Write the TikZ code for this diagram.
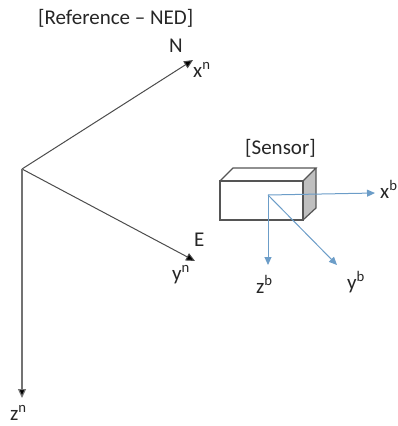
\documentclass[tikz,border=0pt]{standalone}
\usepackage{fontspec}
\setmainfont{Carlito}
\usetikzlibrary{arrows.meta}
\definecolor{bluearrow}{HTML}{6C9DC8}
\definecolor{boxedge}{HTML}{555555}
\definecolor{sideface}{HTML}{BFBFBF}
\tikzset{
  lbl/.style={inner sep=0pt,anchor=base west,font=\fontsize{21}{24}\selectfont,text=black!85},
  refaxis/.style={draw=black!70,line width=1pt,-{Triangle[length=9pt,width=8pt,fill=black]}},
  bodyaxis/.style={draw=bluearrow,line width=1pt,-{Triangle[length=8pt,width=7pt,fill=bluearrow]}},
  boxline/.style={draw=boxedge,line width=1.2pt,line join=miter}
}
\begin{document}
\begin{tikzpicture}[x=1pt,y=-1pt]
\useasboundingbox (0,0) rectangle (398,426);
% reference frame
\coordinate (o) at (22,169);
\coordinate (xn) at (193,60);
\coordinate (yn) at (195,261);
\coordinate (zn) at (22,398);
\draw[refaxis] (o) -- (xn);
\draw[refaxis] (o) -- (yn);
\draw[refaxis,draw=black!55,line width=1.2pt] (o) -- (zn);
% sensor box
\coordinate (fa) at (220,181);
\coordinate (fb) at (303,181);
\coordinate (fc) at (303,220);
\coordinate (fd) at (220,220);
\coordinate (ta) at (233,168);
\coordinate (tb) at (316,168);
\coordinate (tc) at (316,208);
\fill[sideface] (fb) -- (tb) -- (tc) -- (fc) -- cycle;
\draw[boxline] (fa) -- (fb) -- (fc) -- (fd) -- cycle;
\draw[boxline] (fa) -- (ta) -- (tb) -- (fb);
\draw[boxline] (tb) -- (tc) -- (fc);
% sensor axes
\coordinate (s) at (268,195);
\coordinate (xb) at (375,193);
\coordinate (yb) at (337,265);
\coordinate (zb) at (268,265);
\draw[bodyaxis] (s) -- (xb);
\draw[bodyaxis] (s) -- (yb);
\draw[bodyaxis] (s) -- (zb);
% labels
\node[lbl] (tref) at (38,24) {[Reference – NED]};
\node[lbl] (tsen) at (245,154) {[Sensor]};
\node[lbl] (tN) at (169,52) {N};
\node[lbl] (tE) at (194,246) {E};
\node[lbl] (txn) at (193,77) {x\textsuperscript{n}};
\node[lbl] (tyn) at (172,280) {y\textsuperscript{n}};
\node[lbl] (tzn) at (10,420) {z\textsuperscript{n}};
\node[lbl] (txb) at (380,198) {x\textsuperscript{b}};
\node[lbl] (tyb) at (347,289) {y\textsuperscript{b}};
\node[lbl] (tzb) at (256,293) {z\textsuperscript{b}};
\end{tikzpicture}
\end{document}
